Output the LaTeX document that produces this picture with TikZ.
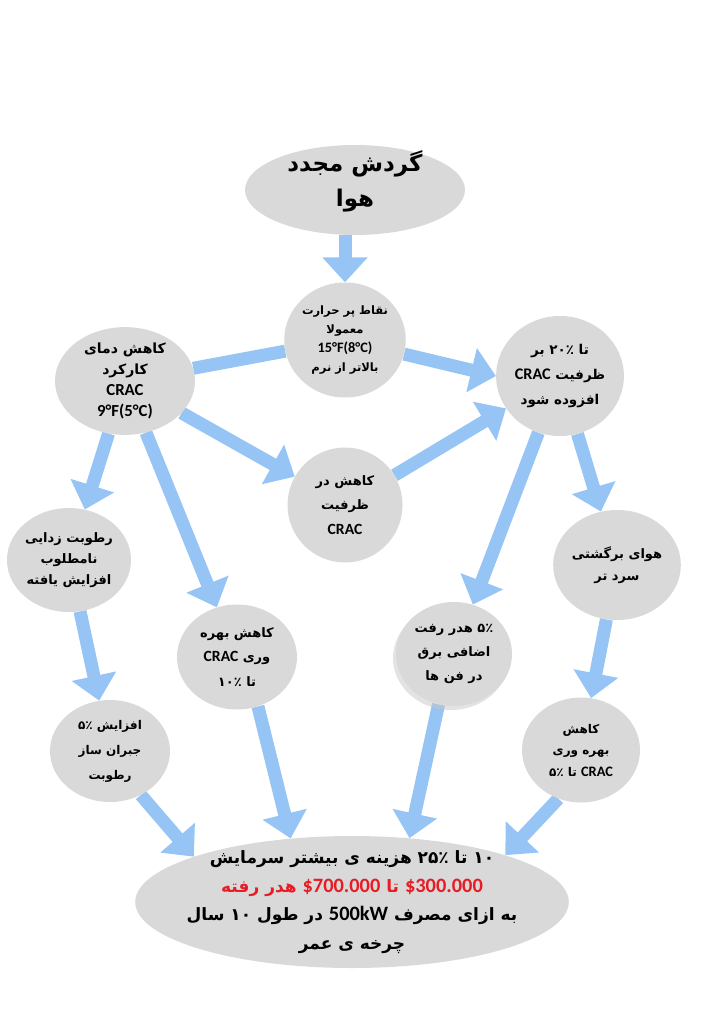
\documentclass[tikz,border=0pt]{standalone}
\usepackage{fontspec}
\setmainfont{Carlito}[Scale=1.2]
\newfontfamily\fa[Script=Arabic]{DejaVu Sans}
\TeXXeTstate=1
\usetikzlibrary{arrows.meta,shapes.geometric,backgrounds,shadows}

\definecolor{bubblegray}{RGB}{217,217,217}
\definecolor{flowblue}{RGB}{150,196,245}
\definecolor{lossred}{RGB}{232,28,36}

\newcommand{\rl}[1]{\beginR#1\endR}
\newcommand{\en}[1]{\beginL{\rmfamily #1}\endL}

\tikzset{
  bubble/.style 2 args={ellipse,fill=bubblegray,minimum width=#1pt,minimum height=#2pt,
    inner sep=0pt,align=center,font=\fa\bfseries\fontsize{12}{24}\selectfont},
  flow/.style={draw=flowblue,line width=13pt,-{Triangle[width=44pt,length=25pt]}},
  link/.style={draw=flowblue,line width=13pt}
}

\begin{document}
\begin{tikzpicture}[x=1pt,y=-1pt]
\useasboundingbox (0,0) rectangle (709,1024);

% Nodes
\node[bubble={220}{90},font=\fa\bfseries\fontsize{23}{35}\selectfont,text depth=22pt,inner ysep=-20pt] (top) at (355,190) {\rl{گردش مجدد}\\\rl{هوا}};
\node[bubble={115}{115},font=\fa\bfseries\fontsize{11.5}{19}\selectfont] (hot) at (345,340) {\rl{نقاط پر حرارت}\\\rl{معمولا}\\{\rmfamily\fontsize{12}{19}\selectfont 15°F(8°C)}\\\rl{بالاتر از نرم}};
\node[bubble={140}{102},font=\fa\bfseries\fontsize{14}{21}\selectfont] (crac) at (125,381) {\rl{کاهش دمای}\\\rl{کارکرد}\\{\rmfamily CRAC}\\{\rmfamily 9°F(5°C)}};
\node[bubble={124}{120},font=\fa\bfseries\fontsize{13.5}{25}\selectfont] (raise) at (560,376) {\rl{تا ۲۰٪ بر}\\\rl{ظرفیت \en{CRAC}}\\\rl{افزوده شود}};
\node[bubble={115}{115},font=\fa\bfseries\fontsize{13}{24.5}\selectfont] (cap) at (345,505) {\rl{کاهش در}\\\rl{ظرفیت}\\{\rmfamily CRAC}};
\node[bubble={122}{104},font=\fa\bfseries\fontsize{13}{21}\selectfont] (dehum) at (69,560) {\rl{رطوبت زدایی}\\\rl{نامطلوب}\\\rl{افزایش یافته}};
\node[bubble={120}{102},font=\fa\bfseries\fontsize{12}{25}\selectfont] (humid) at (110,751) {\rl{افزایش ۵٪}\\\rl{جبران ساز}\\\rl{رطوبت}};
\node[bubble={120}{105},font=\fa\bfseries\fontsize{13}{24.5}\selectfont] (eff10) at (237,657) {\rl{کاهش بهره}\\\rl{وری \en{CRAC}}\\\rl{تا ۱۰٪}};
\node[bubble={116}{104},font=\fa\bfseries\fontsize{13}{24}\selectfont,
  drop shadow={shadow xshift=-3pt,shadow yshift=-4pt,fill=black!22}] (fans) at (454,654) {\rl{۵٪ هدر رفت}\\\rl{اضافی برق}\\\rl{در فن ها}};
\node[bubble={123}{110},font=\fa\bfseries\fontsize{13}{22}\selectfont] (cooler) at (617,565) {\rl{هوای برگشتی}\\\rl{سرد تر}};
\node[bubble={118}{105},font=\fa\bfseries\fontsize{12}{21.5}\selectfont] (eff5) at (581,750) {\rl{کاهش}\\\rl{بهره وری}\\\rl{\en{CRAC} تا ۵٪}};
\node[bubble={424}{132},inner xsep=-12pt,inner ysep=-14pt,font=\fa\bfseries\fontsize{17}{28.5}\selectfont] (cost) at (352,902) {\rl{۱۰ تا ۲۵٪ هزینه ی بیشتر سرمایش}\\
  {\color{lossred}\rl{\en{\$300.000} تا \en{\$700.000} هدر رفته}}\\
  \rl{به ازای  مصرف \en{500kW} در طول ۱۰ سال}\\\rl{چرخه ی عمر}};

% Arrows
\begin{scope}[on background layer]
\draw[flow] (hot.north |- top.south) -- (hot.north);
\draw[link] (hot) -- (crac);
\draw[flow] (hot) -- (raise.west);
\draw[flow] (crac) -- (cap);
\draw[flow] (cap) -- (raise);
\draw[flow] (crac) -- (dehum);
\draw[flow] (crac) -- (eff10);
\draw[flow] (dehum) -- (humid);
\draw[flow] (raise) -- (fans);
\draw[flow] (raise) -- (cooler);
\draw[flow] (cooler) -- (eff5);
\draw[flow] (humid.-55) -- (cost.164);
\draw[flow] (eff10.-67) -- (cost.134);
\draw[flow] (fans.-107) -- (cost.48);
\draw[flow] (eff5.-115) -- (cost.17);
\end{scope}

\end{tikzpicture}
\end{document}
